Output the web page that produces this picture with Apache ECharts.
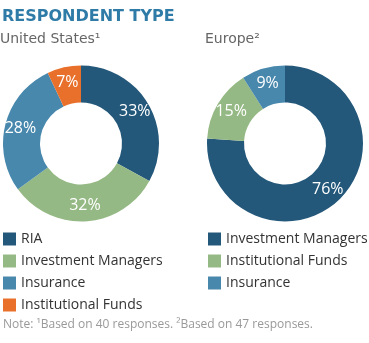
<!DOCTYPE html>
<html><head><meta charset="utf-8">
<script src="https://cdn.jsdelivr.net/npm/echarts@6/dist/echarts.min.js"></script>
<style>html,body{margin:0;padding:0;background:#fff}#c{width:369px;height:343px}</style>
</head><body><div id="c"></div>
<script>
var usCategories = ['RIA', 'Investment Managers', 'Insurance', 'Institutional Funds'];
var usValues = [33, 32, 28, 7];
var usColors = ['#24587a', '#95b984', '#4888ad', '#e8702a'];
var euCategories = ['Investment Managers', 'Institutional Funds', 'Insurance'];
var euValues = [76, 15, 9];
var euColors = ['#24587a', '#95b984', '#4888ad'];

var FONT = 'Open Sans';
var WIDE = 'DejaVu Sans';
function pieData(cats, vals, cols) {
  return cats.map(function (c, i) { return { name: c, value: vals[i], itemStyle: { color: cols[i] } }; });
}
function legendData(cats, cols) {
  return cats.map(function (c, i) { return { name: c, itemStyle: { color: cols[i] } }; });
}
var pieCommon = {
  type: 'pie', radius: [41, 78], startAngle: 90, clockwise: true,
  silent: true, avoidLabelOverlap: false,
  label: { show: true, position: 'inside', formatter: '{c}%', color: '#fff', fontFamily: FONT, fontSize: 16, fontWeight: 500 },
  labelLine: { show: false },
  itemStyle: { borderWidth: 0 }
};
var legendCommon = {
  orient: 'vertical', itemWidth: 13, itemHeight: 13, itemGap: 8, icon: 'rect',
  selectedMode: false,
  textStyle: { fontFamily: FONT, fontSize: 14, lineHeight: 14, color: '#333', padding: [0, 0, 0, 0] },
  padding: 0
};
var chart = echarts.init(document.getElementById('c'), null, { renderer: 'canvas' });
chart.setOption({
  animation: false,
  title: [
    { text: 'RESPONDENT TYPE', left: 2, top: 9, padding: 0, textStyle: { fontFamily: WIDE, fontSize: 16, fontWeight: 'bold', color: '#2f7ba7' } },
    { text: 'United States\u00b9', left: 0, top: 32, padding: 0, textStyle: { fontFamily: WIDE, fontSize: 14, fontWeight: 'normal', color: '#666' } },
    { text: 'Europe\u00b2', left: 205, top: 32, padding: 0, textStyle: { fontFamily: WIDE, fontSize: 14, fontWeight: 'normal', color: '#666' } },
    { text: 'Note: \u00b9Based on 40 responses. \u00b2Based on 47 responses.', left: 3, top: 319, padding: 0, textStyle: { fontFamily: FONT, fontSize: 12, fontWeight: 'normal', color: '#999' } }
  ],
  legend: [
    Object.assign({}, legendCommon, { left: 3, top: 232, data: legendData(usCategories, usColors) }),
    Object.assign({}, legendCommon, { left: 208, top: 232, data: legendData(euCategories, euColors) })
  ],
  series: [
    Object.assign({}, pieCommon, { name: 'United States', center: [81, 143.5], data: pieData(usCategories, usValues, usColors) }),
    Object.assign({}, pieCommon, { name: 'Europe', center: [285, 143.5], data: pieData(euCategories, euValues, euColors) })
  ]
});
</script></body></html>
